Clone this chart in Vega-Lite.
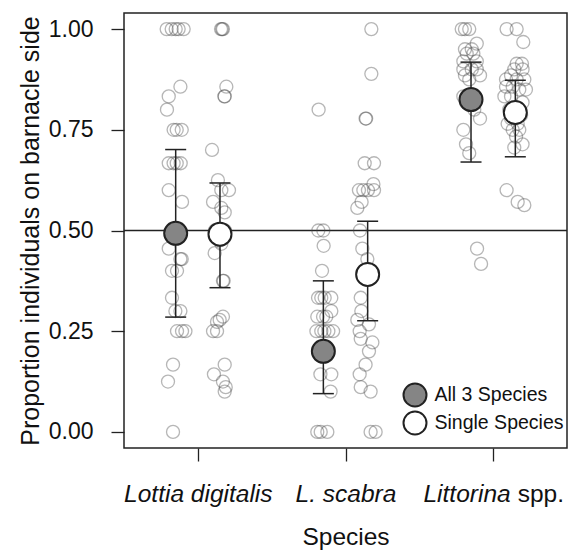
{
  "$schema": "https://vega.github.io/schema/vega-lite/v6.json",
  "width": 443,
  "height": 435,
  "autosize": "none",
  "padding": {"left": 124, "top": 13, "right": 4, "bottom": 103},
  "datasets": {
    "points": [
      {"species": "Lottia digitalis", "treatment": "All 3 Species", "prop": 1, "jitter": -0.061},
      {"species": "Lottia digitalis", "treatment": "All 3 Species", "prop": 1, "jitter": -0.027},
      {"species": "Lottia digitalis", "treatment": "All 3 Species", "prop": 1, "jitter": 0},
      {"species": "Lottia digitalis", "treatment": "All 3 Species", "prop": 1, "jitter": 0.02},
      {"species": "Lottia digitalis", "treatment": "All 3 Species", "prop": 1, "jitter": 0.054},
      {"species": "Lottia digitalis", "treatment": "All 3 Species", "prop": 0.857, "jitter": 0.032},
      {"species": "Lottia digitalis", "treatment": "All 3 Species", "prop": 0.833, "jitter": -0.047},
      {"species": "Lottia digitalis", "treatment": "All 3 Species", "prop": 0.8, "jitter": -0.059},
      {"species": "Lottia digitalis", "treatment": "All 3 Species", "prop": 0.75, "jitter": -0.014},
      {"species": "Lottia digitalis", "treatment": "All 3 Species", "prop": 0.75, "jitter": 0.007},
      {"species": "Lottia digitalis", "treatment": "All 3 Species", "prop": 0.75, "jitter": 0.041},
      {"species": "Lottia digitalis", "treatment": "All 3 Species", "prop": 0.667, "jitter": -0.047},
      {"species": "Lottia digitalis", "treatment": "All 3 Species", "prop": 0.667, "jitter": -0.014},
      {"species": "Lottia digitalis", "treatment": "All 3 Species", "prop": 0.667, "jitter": 0.007},
      {"species": "Lottia digitalis", "treatment": "All 3 Species", "prop": 0.667, "jitter": 0.034},
      {"species": "Lottia digitalis", "treatment": "All 3 Species", "prop": 0.6, "jitter": -0.047},
      {"species": "Lottia digitalis", "treatment": "All 3 Species", "prop": 0.571, "jitter": 0.043},
      {"species": "Lottia digitalis", "treatment": "All 3 Species", "prop": 0.5, "jitter": 0},
      {"species": "Lottia digitalis", "treatment": "All 3 Species", "prop": 0.5, "jitter": 0.02},
      {"species": "Lottia digitalis", "treatment": "All 3 Species", "prop": 0.455, "jitter": -0.047},
      {"species": "Lottia digitalis", "treatment": "All 3 Species", "prop": 0.429, "jitter": 0.032},
      {"species": "Lottia digitalis", "treatment": "All 3 Species", "prop": 0.429, "jitter": 0.041},
      {"species": "Lottia digitalis", "treatment": "All 3 Species", "prop": 0.4, "jitter": -0.025},
      {"species": "Lottia digitalis", "treatment": "All 3 Species", "prop": 0.4, "jitter": 0.009},
      {"species": "Lottia digitalis", "treatment": "All 3 Species", "prop": 0.333, "jitter": -0.025},
      {"species": "Lottia digitalis", "treatment": "All 3 Species", "prop": 0.3, "jitter": -0.002},
      {"species": "Lottia digitalis", "treatment": "All 3 Species", "prop": 0.3, "jitter": 0.032},
      {"species": "Lottia digitalis", "treatment": "All 3 Species", "prop": 0.25, "jitter": 0.009},
      {"species": "Lottia digitalis", "treatment": "All 3 Species", "prop": 0.25, "jitter": 0.043},
      {"species": "Lottia digitalis", "treatment": "All 3 Species", "prop": 0.25, "jitter": 0.066},
      {"species": "Lottia digitalis", "treatment": "All 3 Species", "prop": 0.167, "jitter": -0.018},
      {"species": "Lottia digitalis", "treatment": "All 3 Species", "prop": 0.125, "jitter": -0.052},
      {"species": "Lottia digitalis", "treatment": "All 3 Species", "prop": 0, "jitter": -0.018},

      {"species": "Lottia digitalis", "treatment": "Single Species", "prop": 1, "jitter": 0.007},
      {"species": "Lottia digitalis", "treatment": "Single Species", "prop": 1, "jitter": 0.014},
      {"species": "Lottia digitalis", "treatment": "Single Species", "prop": 1, "jitter": 0.02},
      {"species": "Lottia digitalis", "treatment": "Single Species", "prop": 0.857, "jitter": 0.043},
      {"species": "Lottia digitalis", "treatment": "Single Species", "prop": 0.833, "jitter": 0.03},
      {"species": "Lottia digitalis", "treatment": "Single Species", "prop": 0.833, "jitter": 0.032},
      {"species": "Lottia digitalis", "treatment": "Single Species", "prop": 0.7, "jitter": -0.054},
      {"species": "Lottia digitalis", "treatment": "Single Species", "prop": 0.625, "jitter": -0.014},
      {"species": "Lottia digitalis", "treatment": "Single Species", "prop": 0.6, "jitter": 0.009},
      {"species": "Lottia digitalis", "treatment": "Single Species", "prop": 0.6, "jitter": 0.061},
      {"species": "Lottia digitalis", "treatment": "Single Species", "prop": 0.571, "jitter": -0.047},
      {"species": "Lottia digitalis", "treatment": "Single Species", "prop": 0.556, "jitter": 0.009},
      {"species": "Lottia digitalis", "treatment": "Single Species", "prop": 0.545, "jitter": 0.032},
      {"species": "Lottia digitalis", "treatment": "Single Species", "prop": 0.5, "jitter": -0.034},
      {"species": "Lottia digitalis", "treatment": "Single Species", "prop": 0.5, "jitter": 0.034},
      {"species": "Lottia digitalis", "treatment": "Single Species", "prop": 0.476, "jitter": 0.002},
      {"species": "Lottia digitalis", "treatment": "Single Species", "prop": 0.467, "jitter": 0.009},
      {"species": "Lottia digitalis", "treatment": "Single Species", "prop": 0.444, "jitter": -0.036},
      {"species": "Lottia digitalis", "treatment": "Single Species", "prop": 0.375, "jitter": 0.02},
      {"species": "Lottia digitalis", "treatment": "Single Species", "prop": 0.375, "jitter": 0.025},
      {"species": "Lottia digitalis", "treatment": "Single Species", "prop": 0.286, "jitter": 0.02},
      {"species": "Lottia digitalis", "treatment": "Single Species", "prop": 0.278, "jitter": -0.002},
      {"species": "Lottia digitalis", "treatment": "Single Species", "prop": 0.273, "jitter": -0.02},
      {"species": "Lottia digitalis", "treatment": "Single Species", "prop": 0.25, "jitter": -0.047},
      {"species": "Lottia digitalis", "treatment": "Single Species", "prop": 0.25, "jitter": -0.02},
      {"species": "Lottia digitalis", "treatment": "Single Species", "prop": 0.167, "jitter": 0.032},
      {"species": "Lottia digitalis", "treatment": "Single Species", "prop": 0.143, "jitter": -0.041},
      {"species": "Lottia digitalis", "treatment": "Single Species", "prop": 0.125, "jitter": 0.02},
      {"species": "Lottia digitalis", "treatment": "Single Species", "prop": 0.111, "jitter": 0.039},
      {"species": "Lottia digitalis", "treatment": "Single Species", "prop": 0.1, "jitter": 0.032},

      {"species": "L. scabra", "treatment": "All 3 Species", "prop": 0.8, "jitter": -0.032},
      {"species": "L. scabra", "treatment": "All 3 Species", "prop": 0.5, "jitter": -0.034},
      {"species": "L. scabra", "treatment": "All 3 Species", "prop": 0.5, "jitter": 0},
      {"species": "L. scabra", "treatment": "All 3 Species", "prop": 0.462, "jitter": 0.002},
      {"species": "L. scabra", "treatment": "All 3 Species", "prop": 0.4, "jitter": -0.009},
      {"species": "L. scabra", "treatment": "All 3 Species", "prop": 0.333, "jitter": -0.036},
      {"species": "L. scabra", "treatment": "All 3 Species", "prop": 0.333, "jitter": -0.014},
      {"species": "L. scabra", "treatment": "All 3 Species", "prop": 0.333, "jitter": 0.009},
      {"species": "L. scabra", "treatment": "All 3 Species", "prop": 0.333, "jitter": 0.054},
      {"species": "L. scabra", "treatment": "All 3 Species", "prop": 0.3, "jitter": 0.054},
      {"species": "L. scabra", "treatment": "All 3 Species", "prop": 0.286, "jitter": -0.041},
      {"species": "L. scabra", "treatment": "All 3 Species", "prop": 0.286, "jitter": -0.002},
      {"species": "L. scabra", "treatment": "All 3 Species", "prop": 0.286, "jitter": 0.02},
      {"species": "L. scabra", "treatment": "All 3 Species", "prop": 0.25, "jitter": -0.047},
      {"species": "L. scabra", "treatment": "All 3 Species", "prop": 0.25, "jitter": -0.014},
      {"species": "L. scabra", "treatment": "All 3 Species", "prop": 0.25, "jitter": 0.007},
      {"species": "L. scabra", "treatment": "All 3 Species", "prop": 0.25, "jitter": 0.034},
      {"species": "L. scabra", "treatment": "All 3 Species", "prop": 0.25, "jitter": 0.066},
      {"species": "L. scabra", "treatment": "All 3 Species", "prop": 0.2, "jitter": 0},
      {"species": "L. scabra", "treatment": "All 3 Species", "prop": 0.2, "jitter": 0.02},
      {"species": "L. scabra", "treatment": "All 3 Species", "prop": 0.143, "jitter": -0.02},
      {"species": "L. scabra", "treatment": "All 3 Species", "prop": 0.143, "jitter": 0.054},
      {"species": "L. scabra", "treatment": "All 3 Species", "prop": 0.1, "jitter": 0.049},
      {"species": "L. scabra", "treatment": "All 3 Species", "prop": 0, "jitter": -0.041},
      {"species": "L. scabra", "treatment": "All 3 Species", "prop": 0, "jitter": -0.018},
      {"species": "L. scabra", "treatment": "All 3 Species", "prop": 0, "jitter": 0.027},

      {"species": "L. scabra", "treatment": "Single Species", "prop": 1, "jitter": 0.025},
      {"species": "L. scabra", "treatment": "Single Species", "prop": 0.889, "jitter": 0.025},
      {"species": "L. scabra", "treatment": "Single Species", "prop": 0.778, "jitter": -0.014},
      {"species": "L. scabra", "treatment": "Single Species", "prop": 0.778, "jitter": -0.01},
      {"species": "L. scabra", "treatment": "Single Species", "prop": 0.667, "jitter": -0.02},
      {"species": "L. scabra", "treatment": "Single Species", "prop": 0.667, "jitter": 0.043},
      {"species": "L. scabra", "treatment": "Single Species", "prop": 0.615, "jitter": 0.039},
      {"species": "L. scabra", "treatment": "Single Species", "prop": 0.6, "jitter": -0.059},
      {"species": "L. scabra", "treatment": "Single Species", "prop": 0.6, "jitter": -0.029},
      {"species": "L. scabra", "treatment": "Single Species", "prop": 0.6, "jitter": 0.002},
      {"species": "L. scabra", "treatment": "Single Species", "prop": 0.6, "jitter": 0.043},
      {"species": "L. scabra", "treatment": "Single Species", "prop": 0.571, "jitter": -0.041},
      {"species": "L. scabra", "treatment": "Single Species", "prop": 0.556, "jitter": -0.07},
      {"species": "L. scabra", "treatment": "Single Species", "prop": 0.5, "jitter": -0.052},
      {"species": "L. scabra", "treatment": "Single Species", "prop": 0.455, "jitter": -0.036},
      {"species": "L. scabra", "treatment": "Single Species", "prop": 0.429, "jitter": -0.002},
      {"species": "L. scabra", "treatment": "Single Species", "prop": 0.333, "jitter": -0.047},
      {"species": "L. scabra", "treatment": "Single Species", "prop": 0.3, "jitter": -0.043},
      {"species": "L. scabra", "treatment": "Single Species", "prop": 0.278, "jitter": -0.07},
      {"species": "L. scabra", "treatment": "Single Species", "prop": 0.267, "jitter": 0.009},
      {"species": "L. scabra", "treatment": "Single Species", "prop": 0.25, "jitter": -0.054},
      {"species": "L. scabra", "treatment": "Single Species", "prop": 0.231, "jitter": -0.047},
      {"species": "L. scabra", "treatment": "Single Species", "prop": 0.222, "jitter": 0.032},
      {"species": "L. scabra", "treatment": "Single Species", "prop": 0.2, "jitter": 0.009},
      {"species": "L. scabra", "treatment": "Single Species", "prop": 0.167, "jitter": -0.014},
      {"species": "L. scabra", "treatment": "Single Species", "prop": 0.143, "jitter": -0.054},
      {"species": "L. scabra", "treatment": "Single Species", "prop": 0.111, "jitter": -0.047},
      {"species": "L. scabra", "treatment": "Single Species", "prop": 0.1, "jitter": 0.02},
      {"species": "L. scabra", "treatment": "Single Species", "prop": 0, "jitter": 0.02},
      {"species": "L. scabra", "treatment": "Single Species", "prop": 0, "jitter": 0.054},

      {"species": "Littorina spp.", "treatment": "All 3 Species", "prop": 1, "jitter": -0.063},
      {"species": "Littorina spp.", "treatment": "All 3 Species", "prop": 1, "jitter": -0.041},
      {"species": "Littorina spp.", "treatment": "All 3 Species", "prop": 1, "jitter": -0.012},
      {"species": "Littorina spp.", "treatment": "All 3 Species", "prop": 0.964, "jitter": 0.039},
      {"species": "Littorina spp.", "treatment": "All 3 Species", "prop": 0.95, "jitter": -0.041},
      {"species": "Littorina spp.", "treatment": "All 3 Species", "prop": 0.95, "jitter": 0.005},
      {"species": "Littorina spp.", "treatment": "All 3 Species", "prop": 0.939, "jitter": -0.029},
      {"species": "Littorina spp.", "treatment": "All 3 Species", "prop": 0.939, "jitter": 0.016},
      {"species": "Littorina spp.", "treatment": "All 3 Species", "prop": 0.92, "jitter": -0.052},
      {"species": "Littorina spp.", "treatment": "All 3 Species", "prop": 0.92, "jitter": 0.039},
      {"species": "Littorina spp.", "treatment": "All 3 Species", "prop": 0.9, "jitter": -0.052},
      {"species": "Littorina spp.", "treatment": "All 3 Species", "prop": 0.9, "jitter": 0.005},
      {"species": "Littorina spp.", "treatment": "All 3 Species", "prop": 0.9, "jitter": 0.039},
      {"species": "Littorina spp.", "treatment": "All 3 Species", "prop": 0.885, "jitter": -0.041},
      {"species": "Littorina spp.", "treatment": "All 3 Species", "prop": 0.885, "jitter": 0.061},
      {"species": "Littorina spp.", "treatment": "All 3 Species", "prop": 0.875, "jitter": -0.012},
      {"species": "Littorina spp.", "treatment": "All 3 Species", "prop": 0.833, "jitter": -0.052},
      {"species": "Littorina spp.", "treatment": "All 3 Species", "prop": 0.833, "jitter": 0.027},
      {"species": "Littorina spp.", "treatment": "All 3 Species", "prop": 0.818, "jitter": -0.034},
      {"species": "Littorina spp.", "treatment": "All 3 Species", "prop": 0.818, "jitter": 0.007},
      {"species": "Littorina spp.", "treatment": "All 3 Species", "prop": 0.8, "jitter": 0.022},
      {"species": "Littorina spp.", "treatment": "All 3 Species", "prop": 0.778, "jitter": 0.061},
      {"species": "Littorina spp.", "treatment": "All 3 Species", "prop": 0.75, "jitter": -0.052},
      {"species": "Littorina spp.", "treatment": "All 3 Species", "prop": 0.714, "jitter": -0.034},
      {"species": "Littorina spp.", "treatment": "All 3 Species", "prop": 0.692, "jitter": -0.012},
      {"species": "Littorina spp.", "treatment": "All 3 Species", "prop": 0.455, "jitter": 0.041},
      {"species": "Littorina spp.", "treatment": "All 3 Species", "prop": 0.417, "jitter": 0.068},

      {"species": "Littorina spp.", "treatment": "Single Species", "prop": 1, "jitter": -0.059},
      {"species": "Littorina spp.", "treatment": "Single Species", "prop": 1, "jitter": 0.009},
      {"species": "Littorina spp.", "treatment": "Single Species", "prop": 0.968, "jitter": 0.054},
      {"species": "Littorina spp.", "treatment": "Single Species", "prop": 0.914, "jitter": 0.009},
      {"species": "Littorina spp.", "treatment": "Single Species", "prop": 0.914, "jitter": 0.045},
      {"species": "Littorina spp.", "treatment": "Single Species", "prop": 0.9, "jitter": -0.007},
      {"species": "Littorina spp.", "treatment": "Single Species", "prop": 0.9, "jitter": 0.049},
      {"species": "Littorina spp.", "treatment": "Single Species", "prop": 0.885, "jitter": -0.029},
      {"species": "Littorina spp.", "treatment": "Single Species", "prop": 0.875, "jitter": -0.063},
      {"species": "Littorina spp.", "treatment": "Single Species", "prop": 0.875, "jitter": 0.009},
      {"species": "Littorina spp.", "treatment": "Single Species", "prop": 0.875, "jitter": 0.061},
      {"species": "Littorina spp.", "treatment": "Single Species", "prop": 0.857, "jitter": -0.063},
      {"species": "Littorina spp.", "treatment": "Single Species", "prop": 0.857, "jitter": -0.018},
      {"species": "Littorina spp.", "treatment": "Single Species", "prop": 0.85, "jitter": 0.027},
      {"species": "Littorina spp.", "treatment": "Single Species", "prop": 0.85, "jitter": 0.072},
      {"species": "Littorina spp.", "treatment": "Single Species", "prop": 0.833, "jitter": -0.074},
      {"species": "Littorina spp.", "treatment": "Single Species", "prop": 0.833, "jitter": -0.029},
      {"species": "Littorina spp.", "treatment": "Single Species", "prop": 0.818, "jitter": 0.049},
      {"species": "Littorina spp.", "treatment": "Single Species", "prop": 0.8, "jitter": -0.041},
      {"species": "Littorina spp.", "treatment": "Single Species", "prop": 0.8, "jitter": 0.005},
      {"species": "Littorina spp.", "treatment": "Single Species", "prop": 0.786, "jitter": 0.039},
      {"species": "Littorina spp.", "treatment": "Single Species", "prop": 0.778, "jitter": -0.029},
      {"species": "Littorina spp.", "treatment": "Single Species", "prop": 0.765, "jitter": -0.052},
      {"species": "Littorina spp.", "treatment": "Single Species", "prop": 0.765, "jitter": 0.016},
      {"species": "Littorina spp.", "treatment": "Single Species", "prop": 0.75, "jitter": -0.018},
      {"species": "Littorina spp.", "treatment": "Single Species", "prop": 0.75, "jitter": 0.027},
      {"species": "Littorina spp.", "treatment": "Single Species", "prop": 0.733, "jitter": 0.005},
      {"species": "Littorina spp.", "treatment": "Single Species", "prop": 0.714, "jitter": 0.049},
      {"species": "Littorina spp.", "treatment": "Single Species", "prop": 0.706, "jitter": -0.007},
      {"species": "Littorina spp.", "treatment": "Single Species", "prop": 0.6, "jitter": -0.059},
      {"species": "Littorina spp.", "treatment": "Single Species", "prop": 0.571, "jitter": 0.016},
      {"species": "Littorina spp.", "treatment": "Single Species", "prop": 0.563, "jitter": 0.061}
    ],
    "means": [
      {"species": "Lottia digitalis", "treatment": "All 3 Species", "mean": 0.493, "lo": 0.285, "hi": 0.701},
      {"species": "Lottia digitalis", "treatment": "Single Species", "mean": 0.491, "lo": 0.358, "hi": 0.618},
      {"species": "L. scabra", "treatment": "All 3 Species", "mean": 0.2, "lo": 0.095, "hi": 0.375},
      {"species": "L. scabra", "treatment": "Single Species", "mean": 0.391, "lo": 0.276, "hi": 0.523},
      {"species": "Littorina spp.", "treatment": "All 3 Species", "mean": 0.825, "lo": 0.67, "hi": 0.918},
      {"species": "Littorina spp.", "treatment": "Single Species", "mean": 0.793, "lo": 0.683, "hi": 0.873}
    ]
  },
  "config": {
    "font": "Liberation Sans",
    "view": {"stroke": "#222222", "strokeWidth": 1.5},
    "axis": {
      "domain": false,
      "grid": false,
      "tickColor": "#222222",
      "tickWidth": 1.3,
      "tickSize": 13,
      "labelColor": "#111111",
      "titleColor": "#111111",
      "labelFont": "Liberation Sans",
      "titleFont": "Liberation Sans",
      "titleFontWeight": "normal"
    },
    "axisY": {
      "labelFontSize": 23,
      "labelPadding": 18,
      "titleFontSize": 25,
      "titleX": -94,
      "titleY": 217.5,
      "titleAngle": -90,
      "titleAlign": "center",
      "titleBaseline": "middle"
    },
    "axisX": {
      "labelFontSize": 24.5,
      "labelPadding": 40,
      "labelBaseline": "alphabetic",
      "labelAngle": 0,
      "labelOverlap": false,
      "labelBound": false,
      "labelFlush": false,
      "titleFontSize": 24.5,
      "titleY": 96,
      "titleBaseline": "alphabetic"
    }
  },
  "resolve": {"scale": {"xOffset": "independent"}, "axis": {"x": "independent"}},
  "layer": [
    {
      "data": {"values": [{}]},
      "mark": {"type": "rule", "color": "#222222", "strokeWidth": 1.3},
      "encoding": {
        "y": {"datum": 0.5, "type": "quantitative", "scale": {"domain": [-0.04, 1.04], "nice": false, "zero": false}, "title": "Proportion individuals on barnacle side", "axis": {"values": [0, 0.25, 0.5, 0.75, 1], "format": ".2f"}}
      }
    },
    {
      "data": {"name": "points"},
      "transform": [{"filter": "datum.treatment == 'All 3 Species'"}],
      "mark": {"type": "point", "shape": "circle", "filled": false, "size": 169, "stroke": "#444444", "strokeWidth": 1.3, "strokeOpacity": 0.55},
      "encoding": {
        "x": {"field": "species", "type": "nominal", "sort": ["Lottia digitalis", "L. scabra", "Littorina spp."], "scale": {"type": "point", "padding": 0.5},
          "axis": {"orient": "bottom", "title": null, "ticks": true, "tickOpacity": 0, "labelExpr": "datum.value == 'Littorina spp.' ? 'spp.' : ''", "labelFontStyle": "normal", "labelAlign": "left", "labelOffset": 24}},
        "xOffset": {"field": "jitter", "type": "quantitative", "scale": {"domain": [-0.15, 0.15], "range": [-44.3, 0], "zero": false, "nice": false}},
        "y": {"field": "prop", "type": "quantitative", "scale": {"domain": [-0.04, 1.04], "nice": false, "zero": false}, "title": "Proportion individuals on barnacle side", "axis": {"values": [0, 0.25, 0.5, 0.75, 1], "format": ".2f"}}
      }
    },
    {
      "data": {"name": "points"},
      "transform": [{"filter": "datum.treatment == 'Single Species'"}],
      "mark": {"type": "point", "shape": "circle", "filled": false, "size": 169, "stroke": "#444444", "strokeWidth": 1.3, "strokeOpacity": 0.55},
      "encoding": {
        "x": {"field": "species", "type": "nominal", "sort": ["Lottia digitalis", "L. scabra", "Littorina spp."], "scale": {"type": "point", "padding": 0.5}, "axis": null},
        "xOffset": {"field": "jitter", "type": "quantitative", "scale": {"domain": [-0.15, 0.15], "range": [0, 44.3], "zero": false, "nice": false}},
        "y": {"field": "prop", "type": "quantitative", "scale": {"domain": [-0.04, 1.04], "nice": false, "zero": false}, "title": "Proportion individuals on barnacle side", "axis": {"values": [0, 0.25, 0.5, 0.75, 1], "format": ".2f"}}
      }
    },
    {
      "data": {"name": "means"},
      "mark": {"type": "rule", "color": "#222222", "strokeWidth": 1.5},
      "encoding": {
        "x": {"field": "species", "type": "nominal", "sort": ["Lottia digitalis", "L. scabra", "Littorina spp."], "scale": {"type": "point", "padding": 0.5}, "axis": null},
        "xOffset": {"field": "treatment", "type": "nominal", "scale": {"type": "point", "domain": ["All 3 Species", "Single Species"], "range": [-22.15, 22.15], "padding": 0}},
        "y": {"field": "lo", "type": "quantitative", "scale": {"domain": [-0.04, 1.04], "nice": false, "zero": false}, "title": "Proportion individuals on barnacle side", "axis": {"values": [0, 0.25, 0.5, 0.75, 1], "format": ".2f"}},
        "y2": {"field": "hi"}
      }
    },
    {
      "data": {"name": "means"},
      "mark": {"type": "tick", "orient": "horizontal", "size": 21, "thickness": 1.5, "color": "#222222", "opacity": 1},
      "encoding": {
        "x": {"field": "species", "type": "nominal", "sort": ["Lottia digitalis", "L. scabra", "Littorina spp."], "scale": {"type": "point", "padding": 0.5}, "axis": null},
        "xOffset": {"field": "treatment", "type": "nominal", "scale": {"type": "point", "domain": ["All 3 Species", "Single Species"], "range": [-22.15, 22.15], "padding": 0}},
        "y": {"field": "lo", "type": "quantitative", "scale": {"domain": [-0.04, 1.04], "nice": false, "zero": false}, "title": "Proportion individuals on barnacle side", "axis": {"values": [0, 0.25, 0.5, 0.75, 1], "format": ".2f"}}
      }
    },
    {
      "data": {"name": "means"},
      "mark": {"type": "tick", "orient": "horizontal", "size": 21, "thickness": 1.5, "color": "#222222", "opacity": 1},
      "encoding": {
        "x": {"field": "species", "type": "nominal", "sort": ["Lottia digitalis", "L. scabra", "Littorina spp."], "scale": {"type": "point", "padding": 0.5}, "axis": null},
        "xOffset": {"field": "treatment", "type": "nominal", "scale": {"type": "point", "domain": ["All 3 Species", "Single Species"], "range": [-22.15, 22.15], "padding": 0}},
        "y": {"field": "hi", "type": "quantitative", "scale": {"domain": [-0.04, 1.04], "nice": false, "zero": false}, "title": "Proportion individuals on barnacle side", "axis": {"values": [0, 0.25, 0.5, 0.75, 1], "format": ".2f"}}
      }
    },
    {
      "data": {"name": "means"},
      "mark": {"type": "circle", "size": 529, "stroke": "#222222", "strokeWidth": 2, "opacity": 1},
      "encoding": {
        "x": {"field": "species", "type": "nominal", "sort": ["Lottia digitalis", "L. scabra", "Littorina spp."], "scale": {"type": "point", "padding": 0.5},
          "axis": {"orient": "bottom", "title": "Species", "labelFontStyle": "italic",
            "labelExpr": "datum.value == 'Littorina spp.' ? 'Littorina' : datum.value",
            "labelAlign": {"condition": {"test": "datum.value == 'Littorina spp.'", "value": "right"}, "value": "center"},
            "labelOffset": {"condition": {"test": "datum.value == 'Littorina spp.'", "value": 17}, "value": 0}}},
        "xOffset": {"field": "treatment", "type": "nominal", "scale": {"type": "point", "domain": ["All 3 Species", "Single Species"], "range": [-22.15, 22.15], "padding": 0}},
        "y": {"field": "mean", "type": "quantitative", "scale": {"domain": [-0.04, 1.04], "nice": false, "zero": false}, "title": "Proportion individuals on barnacle side", "axis": {"values": [0, 0.25, 0.5, 0.75, 1], "format": ".2f"}},
        "fill": {"field": "treatment", "type": "nominal", "scale": {"domain": ["All 3 Species", "Single Species"], "range": ["#858585", "#ffffff"]},
          "legend": {"orient": "none", "legendX": 278.5, "legendY": 369.5, "title": null, "symbolType": "circle", "symbolSize": 529, "symbolStrokeColor": "#222222", "symbolStrokeWidth": 2, "symbolOpacity": 1, "labelFontSize": 19.5, "labelFont": "Liberation Sans", "labelColor": "#111111", "labelOffset": 7, "rowPadding": -3, "padding": 0}}
      }
    }
  ]
}
